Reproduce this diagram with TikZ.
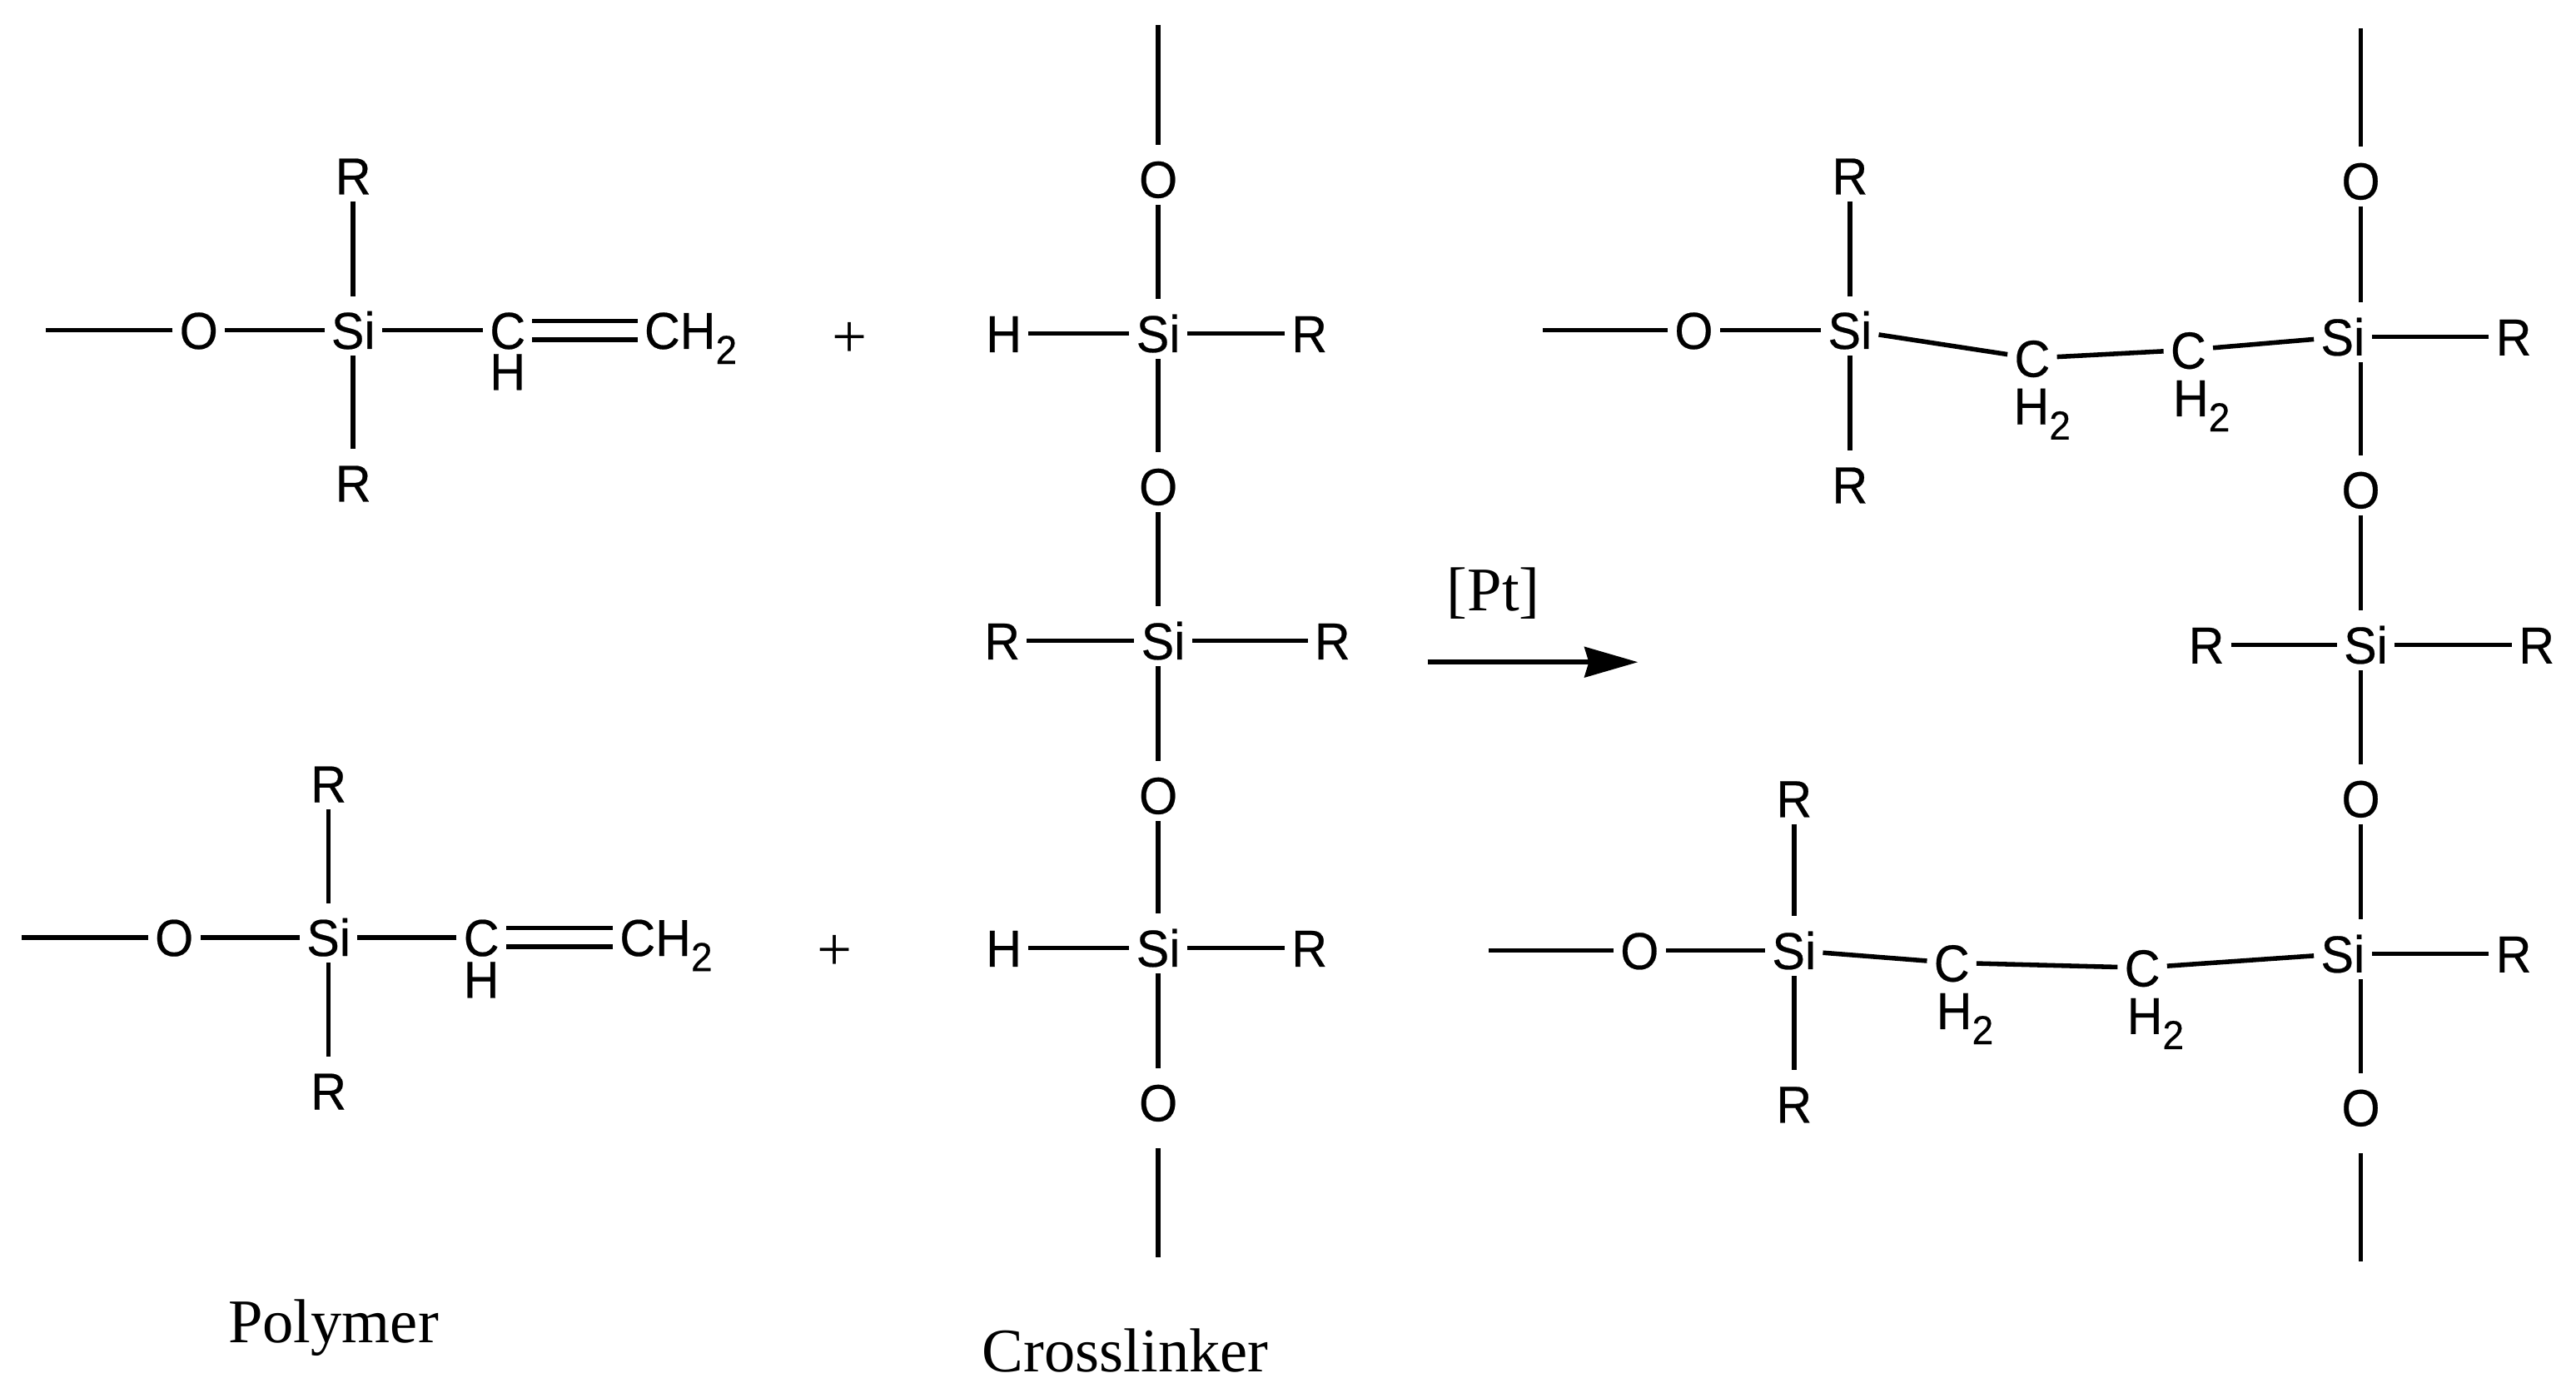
\documentclass[tikz,border=0pt]{standalone}
\usepackage{fontspec}
\setmainfont{Liberation Sans}[FakeStretch=0.95,FakeBold=0.4]
\newfontfamily\capfont{Liberation Serif}
\usetikzlibrary{arrows.meta}
\newcommand{\subtwo}{\raisebox{-0.55ex}{\fontsize{14pt}{14pt}\selectfont 2}}

\begin{document}
\begin{tikzpicture}[x=0.02cm,y=-0.02cm,
    every node/.style={font=\fontsize{18pt}{18pt}\selectfont,inner sep=2.2pt,text height=12.9pt,text depth=0pt},
    caption/.style={font=\capfont\fontsize{21.5pt}{21.5pt}\selectfont,text height=,text depth=},
    bond/.style={line width=1.6pt},
    every edge/.style={draw,bond},
    tosi/.style={shorten <=3pt},
    intosi/.style={shorten >=3pt},
    longend/.style={shorten <=7pt},
    dbl/.style={double,double distance=4.9pt}]
      \useasboundingbox (0,0) rectangle (1568,850.4);
      % polymer, top
      \coordinate (wa) at (28,201);
      \node (oa) at (121,201) {O} edge (wa);
      \node (sia) at (215,201) {Si} edge (oa);
      \node (raa) at (215,107) {R} edge[intosi] (sia);
      \node (rab) at (215,294) {R} edge[tosi] (sia);
      \node (ca) at (309,201) {C} edge (sia);
      \node (ha) at (309,226) {H};
      \node[anchor=west] (cha) at (388,201) {CH\subtwo} edge[dbl] (ca);
      % polymer, bottom
      \coordinate (wb) at (13,570.5);
      \node (ob) at (106,570.5) {O} edge (wb);
      \node (sib) at (200,570.5) {Si} edge (ob);
      \node (rba) at (200,477) {R} edge[intosi] (sib);
      \node (rbb) at (200,664) {R} edge[tosi] (sib);
      \node (cb) at (293,570.5) {C} edge (sib);
      \node (hb) at (293,596) {H};
      \node[anchor=west] (chb) at (373,570.5) {CH\subtwo} edge[dbl] (cb);
      \node[caption] (plusa) at (517,207) {+};
      \node[caption] (plusb) at (508,580) {+};
      % crosslinker
      \coordinate (xa) at (705,15);
      \node (xoa) at (705,109) {O} edge[tosi] (xa);
      \node (xsa) at (705,203) {Si} edge[tosi] (xoa);
      \node (xha) at (611,203) {H} edge (xsa);
      \node (xra) at (797,203) {R} edge (xsa);
      \node (xob) at (705,296) {O} edge[tosi] (xsa);
      \node (xsb) at (708,390) {Si};
      \draw[bond,intosi] (xob) -- (xob |- xsb.north);
      \node (xrb) at (610,390) {R} edge (xsb);
      \node (xrc) at (811,390) {R} edge (xsb);
      \node (xoc) at (705,484) {O} edge[tosi] (xoc |- xsb.south);
      \node (xsc) at (705,577) {Si} edge[tosi] (xoc);
      \node (xhc) at (611,577) {H} edge (xsc);
      \node (xrd) at (797,577) {R} edge (xsc);
      \node (xod) at (705,671) {O} edge[tosi] (xsc);
      \coordinate (xb) at (705,765);
      \draw[bond,longend] (xod) -- (xb);
      % arrow
      \coordinate (aa) at (869,403);
      \coordinate (ab) at (997,403);
      \draw[bond,-{Stealth[length=18.5pt,width=10.5pt,inset=1.5pt]}] (aa) -- (ab);
      \node[caption] (pt) at (909,361) {[Pt]};
      % product, top
      \coordinate (pwa) at (939,201);
      \node (poa) at (1031,201) {O} edge (pwa);
      \node (psa) at (1126,201) {Si} edge (poa);
      \node (pra) at (1126,107) {R} edge[intosi] (psa);
      \node (prb) at (1126,295) {R} edge[tosi] (psa);
      \node (pca) at (1237,218) {C} edge (psa);
      \node (phb) at (1243,247) {H\subtwo};
      \node (pcb) at (1332,213) {C} edge (pca);
      \node (phc) at (1340,242) {H\subtwo};
      \node (psb) at (1426,205) {Si} edge (pcb);
      \node (prc) at (1530,205) {R} edge (psb);
      \coordinate (qa) at (1437,17);
      \node (qoa) at (1437,110) {O} edge[tosi] (qa);
      \draw[bond,intosi] (qoa) -- (qoa |- psb.north);
      \node (qob) at (1437,298) {O} edge[tosi] (qob |- psb.south);
      \node (qsa) at (1440,392.5) {Si};
      \draw[bond,intosi] (qob) -- (qob |- qsa.north);
      \node (qra) at (1343,392.5) {R} edge (qsa);
      \node (qrb) at (1544,392.5) {R} edge (qsa);
      \node (qoc) at (1437,486) {O} edge[tosi] (qoc |- qsa.south);
      % product, bottom
      \coordinate (pwb) at (906,578.5);
      \node (pod) at (998,578.5) {O} edge (pwb);
      \node (psd) at (1092,578.5) {Si} edge (pod);
      \node (prd) at (1092,486) {R} edge[intosi] (psd);
      \node (pre) at (1092,672) {R} edge[tosi] (psd);
      \node (pcd) at (1188,586) {C} edge (psd);
      \node (phd) at (1196,615) {H\subtwo};
      \node (pce) at (1304,589) {C} edge (pcd);
      \node (phe) at (1312,618) {H\subtwo};
      \node (pse) at (1426,580.5) {Si} edge (pce);
      \node (prf) at (1530,580.5) {R} edge (pse);
      \draw[bond,intosi] (qoc) -- (qoc |- pse.north);
      \node (qod) at (1437,674) {O} edge[tosi] (qod |- pse.south);
      \coordinate (qb) at (1437,768);
      \draw[bond,longend] (qod) -- (qb);
      % names
      \node[caption] (poly) at (203,808) {Polymer};
      \node[caption] (cross) at (685,822) {Crosslinker};
    \end{tikzpicture}
\end{document}
